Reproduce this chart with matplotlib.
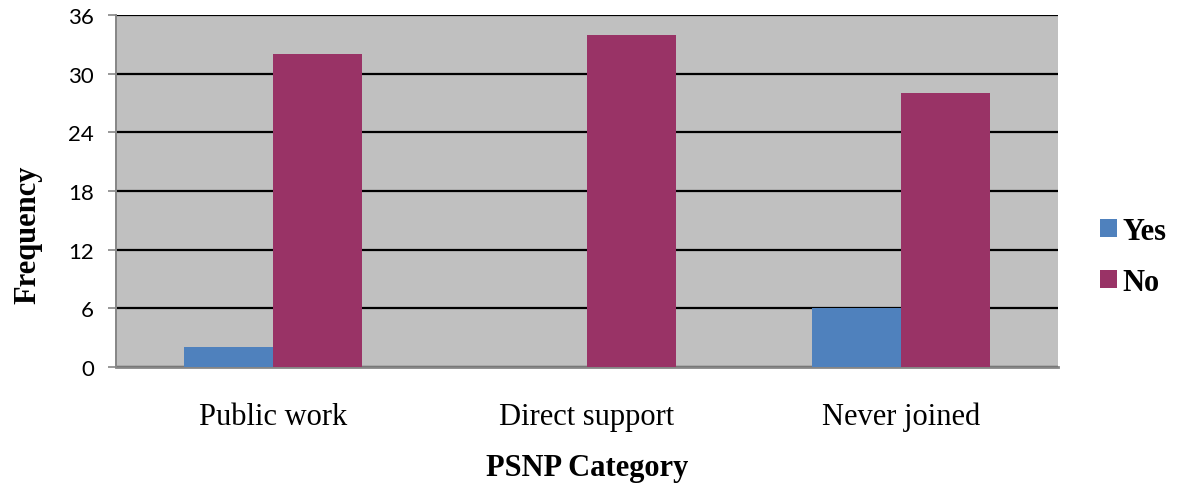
import matplotlib
matplotlib.use("Agg")
import matplotlib.pyplot as plt
import numpy as np

categories = ["Public work", "Direct support", "Never joined"]
yes_counts = [2, 0, 6]
no_counts = [32, 34, 28]
series_names = ["Yes", "No"]
y_ticks = [0, 6, 12, 18, 24, 30, 36]

yes_color = "#4f81bd"
no_color = "#993366"
serif = "Liberation Serif"

fig = plt.figure(figsize=(11.78, 4.89), dpi=100)
ax = fig.add_axes([0.0985, 0.2474, 0.7995, 0.7199])
ax.set_facecolor("#c0c0c0")

x = np.arange(len(categories))
width = 0.283
ax.bar(x - width / 2, yes_counts, width, color=yes_color, label=series_names[0], zorder=3)
ax.bar(x + width / 2, no_counts, width, color=no_color, label=series_names[1], zorder=3)

ax.set_xlim(-0.5, len(categories) - 0.5)
ax.set_ylim(0, 36)
ax.set_yticks(y_ticks)
ax.yaxis.grid(True, color="black", linewidth=1.6, zorder=1)
ax.set_axisbelow(True)

for side in ["top", "right"]:
    ax.spines[side].set_visible(False)
ax.spines["left"].set_color("#868686")
ax.spines["bottom"].set_color("#868686")
ax.spines["left"].set_linewidth(1.4)
ax.spines["bottom"].set_linewidth(2.0)

ax.tick_params(axis="y", length=6, width=1.2, color="#868686", labelsize=16, pad=10)
ax.tick_params(axis="x", length=0, pad=25)
for lbl in ax.get_yticklabels():
    lbl.set_family("Lato")
ax.set_xticks(x)
ax.set_xticklabels(categories, family=serif, fontsize=22)

ax.set_xlabel("PSNP Category", family=serif, fontsize=22,
              fontweight="bold", labelpad=16)
ax.set_ylabel("Frequency", family=serif, fontsize=22, fontweight="bold")
ax.yaxis.set_label_coords(-0.0786, 0.378)

ax.legend(loc="center left", bbox_to_anchor=(1.0446, 0.313), frameon=False,
          prop={"family": serif, "size": 22, "weight": "bold"},
          handlelength=0.55, handleheight=0.55, handletextpad=0.2,
          labelspacing=0.72, borderpad=0, borderaxespad=0)

fig.savefig("out.png", dpi=100)
